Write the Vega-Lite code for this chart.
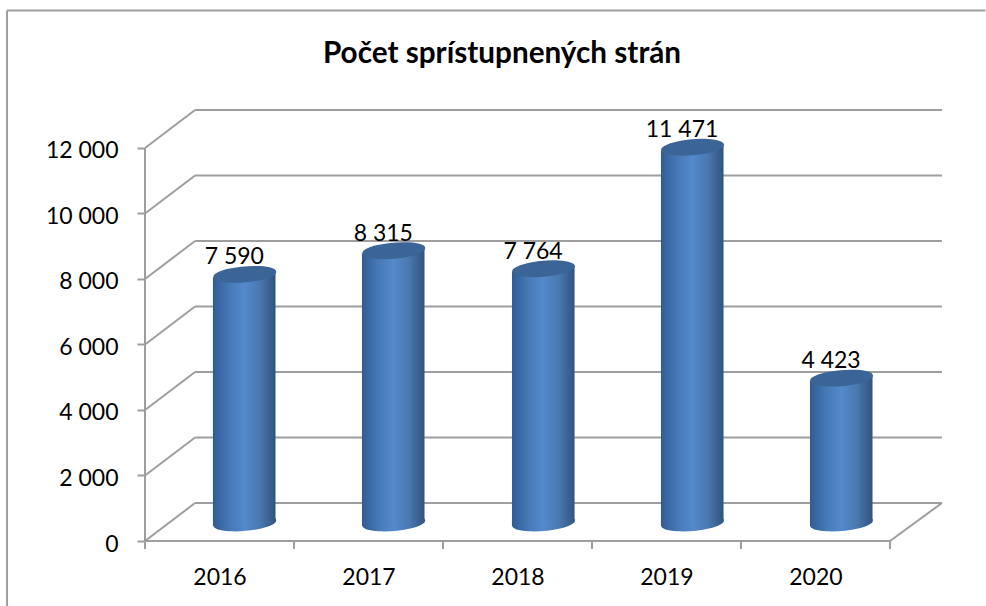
{
"$schema":"https://vega.github.io/schema/vega-lite/v6.json",
"width":798,"height":431,"autosize":"none",
"padding":{"left":145,"top":110,"right":43,"bottom":65},
"background":"white",
"config":{"view":{"stroke":null},"font":"Lato"},
"title":{"text":"Počet sprístupnených strán","font":"Lato","fontSize":29.7,"fontWeight":"bold","color":"#000000","anchor":"middle","frame":"group","dx":-42,"offset":0,"dy":60.5},
"datasets":{
"bars":[
{"year":"2016","pos":0.67,"value":7590,"label":"7 590","center":8140},
{"year":"2017","pos":1.67,"value":8315,"label":"8 315","center":8865},
{"year":"2018","pos":2.675,"value":7764,"label":"7 764","center":8314},
{"year":"2019","pos":3.675,"value":11471,"label":"11 471","center":12021},
{"year":"2020","pos":4.675,"value":4423,"label":"4 423","center":4973}],
"bases":[
{"year":"2016","pos":0.67,"center":550},
{"year":"2017","pos":1.67,"center":550},
{"year":"2018","pos":2.675,"center":550},
{"year":"2019","pos":3.675,"center":550},
{"year":"2020","pos":4.675,"center":550}],
"bodies":[
{"year":"2016","x":0.456,"top":8050,"base":460},{"year":"2016","x":0.876,"top":8230,"base":640},
{"year":"2017","x":1.456,"top":8775,"base":460},{"year":"2017","x":1.876,"top":8955,"base":640},
{"year":"2018","x":2.463,"top":8224,"base":460},{"year":"2018","x":2.883,"top":8404,"base":640},
{"year":"2019","x":3.463,"top":11931,"base":460},{"year":"2019","x":3.883,"top":12111,"base":640},
{"year":"2020","x":4.463,"top":4883,"base":460},{"year":"2020","x":4.883,"top":5063,"base":640}],
"lines":[
{"x":-0.926,"x2":5.64,"y":16198,"y2":16198},
{"x":-0.926,"x2":-0.926,"y":16198,"y2":-1985},
{"x":0,"x2":0,"y":0,"y2":12000},
{"x":0,"x2":5,"y":0,"y2":0},
{"x":5,"x2":5.349,"y":0,"y2":1160},
{"x":0,"x2":0.336,"y":0,"y2":1160},{"x":0.336,"x2":5.349,"y":1160,"y2":1160},
{"x":0,"x2":0.336,"y":2000,"y2":3160},{"x":0.336,"x2":5.349,"y":3160,"y2":3160},
{"x":0,"x2":0.336,"y":4000,"y2":5160},{"x":0.336,"x2":5.349,"y":5160,"y2":5160},
{"x":0,"x2":0.336,"y":6000,"y2":7160},{"x":0.336,"x2":5.349,"y":7160,"y2":7160},
{"x":0,"x2":0.336,"y":8000,"y2":9160},{"x":0.336,"x2":5.349,"y":9160,"y2":9160},
{"x":0,"x2":0.336,"y":10000,"y2":11160},{"x":0.336,"x2":5.349,"y":11160,"y2":11160},
{"x":0,"x2":0.336,"y":12000,"y2":13160},{"x":0.336,"x2":5.349,"y":13160,"y2":13160},
{"x":0,"x2":0,"y":0,"y2":-245},{"x":1,"x2":1,"y":0,"y2":-245},{"x":2,"x2":2,"y":0,"y2":-245},
{"x":3,"x2":3,"y":0,"y2":-245},{"x":4,"x2":4,"y":0,"y2":-245},{"x":5,"x2":5,"y":0,"y2":-245}]
},
"layer":[
{"data":{"name":"lines"},"mark":{"type":"rule","color":"#9e9e9e","strokeWidth":2},
"encoding":{
"x":{"field":"x","type":"quantitative","scale":{"domain":[0,5.356],"nice":false,"zero":false},
"axis":{"title":null,"values":[0.5,1.5,2.5,3.5,4.5],"labelExpr":"['2016','2017','2018','2019','2020'][floor(datum.value)]","ticks":false,"domain":false,"grid":false,"labelFont":"Lato","labelFontSize":23,"labelColor":"#000000","labelPadding":25}},
"x2":{"field":"x2"},
"y":{"field":"y","type":"quantitative","scale":{"domain":[0,13160],"nice":false,"zero":false},
"axis":{"title":null,"values":[0,2000,4000,6000,8000,10000,12000],"labelExpr":"replace(format(datum.value,','),',',' ')","domain":false,"grid":false,"tickColor":"#9e9e9e","tickWidth":2,"tickSize":8,"labelFont":"Lato","labelFontSize":23,"labelColor":"#000000","labelPadding":19,"labelOffset":3}},
"y2":{"field":"y2"}}},
{"data":{"name":"bases"},"mark":{"type":"point","filled":true,"opacity":1,"size":3969,"stroke":null,
"shape":"M-0.996,0.087 A1,0.25,-5,1,1,0.996,-0.087 A1,0.25,-5,1,1,-0.996,0.087 Z",
"fill":{"gradient":"linear","x1":0,"y1":0,"x2":1,"y2":0,"stops":[{"offset":0,"color":"#2f5c96"},{"offset":0.25,"color":"#4678b4"},{"offset":0.5,"color":"#5489cd"},{"offset":0.75,"color":"#4a78b0"},{"offset":1,"color":"#33537c"}]}},
"encoding":{"x":{"field":"pos","type":"quantitative"},"y":{"field":"center","type":"quantitative"}}},
{"data":{"name":"bodies"},"mark":{"type":"area","line":false,
"fill":{"gradient":"linear","x1":0,"y1":0,"x2":1,"y2":0,"stops":[{"offset":0,"color":"#2f5c96"},{"offset":0.25,"color":"#4678b4"},{"offset":0.5,"color":"#5489cd"},{"offset":0.75,"color":"#4a78b0"},{"offset":1,"color":"#33537c"}]}},
"encoding":{"x":{"field":"x","type":"quantitative"},"y":{"field":"top","type":"quantitative"},"y2":{"field":"base"},"detail":{"field":"year"}}},
{"data":{"name":"bars"},"mark":{"type":"point","filled":true,"opacity":1,"size":3969,"fill":"#3b6596","stroke":null,
"shape":"M-0.996,0.087 A1,0.25,-5,1,1,0.996,-0.087 A1,0.25,-5,1,1,-0.996,0.087 Z"},
"encoding":{"x":{"field":"pos","type":"quantitative"},"y":{"field":"center","type":"quantitative"}}},
{"data":{"name":"bars"},"mark":{"type":"text","font":"Lato","fontSize":23,"color":"#000000","baseline":"middle","dy":-17,"dx":-10.5},
"encoding":{"x":{"field":"pos","type":"quantitative"},"y":{"field":"center","type":"quantitative"},"text":{"field":"label"}}}
]
}
